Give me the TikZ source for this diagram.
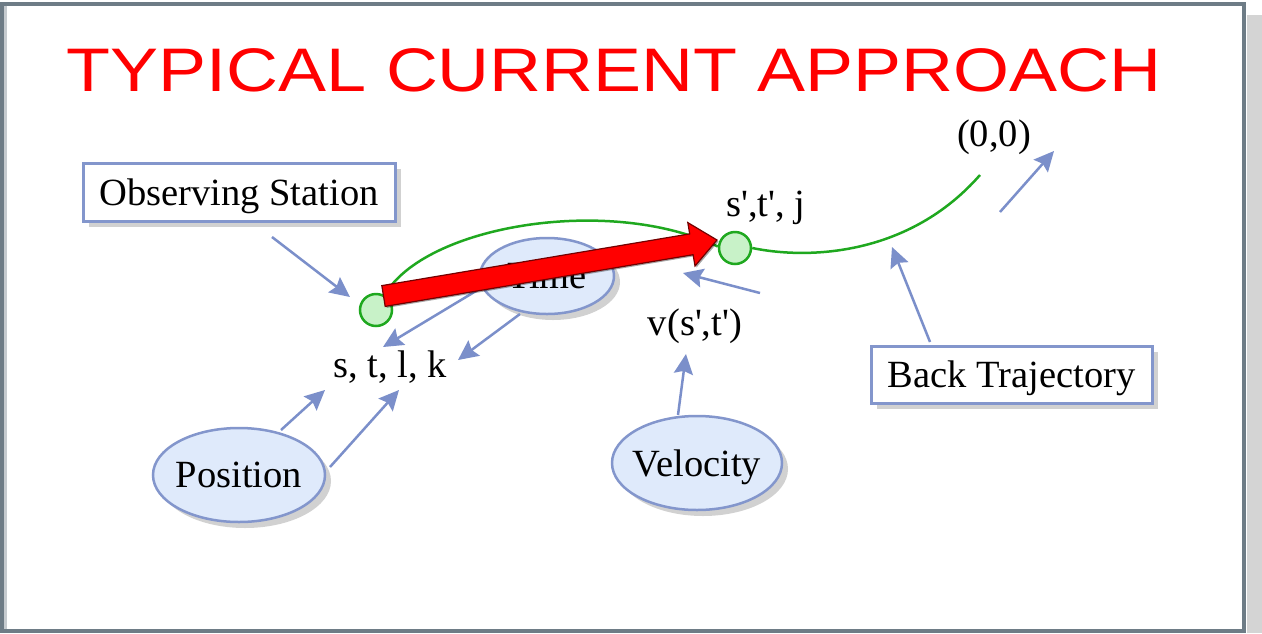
\documentclass[tikz,border=0pt]{standalone}
\usepackage{graphicx}
\usepackage{fontspec}
\setmainfont{Liberation Serif}
\newfontfamily\titlefont{Liberation Sans}
\usetikzlibrary{arrows.meta,shapes.geometric,shadows}
\definecolor{framec}{HTML}{6E7C86}
\definecolor{shadec}{HTML}{D4D4D4}
\definecolor{innerc}{HTML}{C6CBCF}
\definecolor{bluel}{HTML}{7B8FCA}
\definecolor{ellfill}{HTML}{DFEAFB}
\definecolor{ellline}{HTML}{8396CC}
\definecolor{greenl}{HTML}{1FA81F}
\definecolor{greenf}{HTML}{C8F2C8}
\begin{document}
\begin{tikzpicture}[x=1pt,y=-1pt,
  txt/.style={font=\fontsize{38.5}{40}\selectfont, inner sep=0pt},
  boxnode/.style={rectangle, draw=ellline, line width=3pt, fill=white, inner sep=0pt,
    font=\fontsize{38.5}{40}\selectfont, text depth=0pt,
    drop shadow={shadow xshift=6pt, shadow yshift=-6pt, fill=black, opacity=0.18}},
  ellnode/.style={ellipse, draw=ellline, line width=2.5pt, fill=ellfill, inner sep=0pt,
    drop shadow={shadow xshift=6pt, shadow yshift=-6pt, fill=black, opacity=0.18}},
  ell label/.style={font=\fontsize{38.5}{40}\selectfont, inner sep=0pt, text depth=0pt},
  conn/.style={draw=bluel, line width=2.5pt, -{Stealth[length=20pt,width=19pt,inset=3pt]}},
  station/.style={circle, draw=greenl, fill=greenf, line width=2.5pt, minimum size=32pt, inner sep=0pt},
  traj/.style={draw=greenl, line width=2.5pt}]
% frame
\path[use as bounding box] (0,0) rectangle (1262,633);
\fill[shadec] (1247,15) rectangle (1262,633);
\draw[framec, line width=4pt, fill=white] (1.8,3.5) rectangle (1243.5,630.5);
\draw[innerc, line width=3pt] (5,5.5) -- (5,628.5);
% title
\node[anchor=base west, inner sep=0pt, text=red] (title) at (66,91)
  {\scalebox{1.17}[1]{\titlefont\fontsize{61.5}{62}\selectfont TYPICAL CURRENT APPROACH}};
% nodes
\node[boxnode, minimum width=312pt, minimum height=58pt] (obs) at (239,192) {Observing Station};
\node[boxnode, minimum width=281pt, minimum height=57pt] (back) at (1011.5,374.5) {Back Trajectory};
\node[ellnode, minimum width=134pt, minimum height=76pt, label={[ell label]center:Time}] (time) at (547,276) {};
\node[ellnode, minimum width=172pt, minimum height=94pt, label={[ell label]center:Position}] (pos) at (239,475) {};
\node[ellnode, minimum width=170pt, minimum height=94pt, label={[ell label]center:Velocity}] (vel) at (697,463) {};
\node[txt, anchor=base] (stlk) at (390,377) {s, t, l, k};
\node[txt, anchor=base] (stj) at (766,216) {s\textquotesingle,t\textquotesingle, j};
\node[txt, anchor=base] (origin) at (994,146) {(0,0)};
\node[txt, anchor=base] (vst) at (695,335) {v(s\textquotesingle,t\textquotesingle)};
\node[station] (c1) at (376,310) {};
\node[station] (c2) at (735,248) {};
\coordinate (trajend) at (980,175);
\coordinate (tb) at (892,247);
% blue connectors
\draw[conn] ([shift={(33,45)}]obs.center) -- ([shift={(-26,-13)}]c1.center);
\draw[conn] (time.190) -- ([shift={(-7,-30)}]stlk.base);
\draw[conn] ([shift={(-27,38)}]time.center) -- ([shift={(68,-17)}]stlk.base);
\draw[conn] ([shift={(42,-45)}]pos.center) -- ([shift={(-65,13)}]stlk.base);
\draw[conn] ([shift={(91,-8)}]pos.center) -- ([shift={(9,13)}]stlk.base);
\draw[conn] ([shift={(-19,-48)}]vel.center) -- ([shift={(-9,19)}]vst.base);
\draw[conn] ([shift={(25,45)}]c2.center) -- ([shift={(-52,25)}]c2.center);
\draw[conn] ([shift={(-81.5,-32.5)}]back.center) -- (tb);
\draw[conn] ([shift={(6,66)}]origin.base) -- ([shift={(60,5)}]origin.base);
% green trajectory
\draw[traj] (c1.60) .. controls (425,225) and (610,195) .. (c2.175);
\draw[traj] (c2.east) .. controls (810,260) and (910,255) .. (trajend);
% red arrow
\fill[black, opacity=0.35] ([shift={(1.5,1.5)}]381.8,285.6) -- ([shift={(1.5,1.5)}]689.7,233.9) -- ([shift={(1.5,1.5)}]687.8,222.6) -- ([shift={(1.5,1.5)}]717,240) -- ([shift={(1.5,1.5)}]695.0,266.0) -- ([shift={(1.5,1.5)}]693.1,254.7) -- ([shift={(1.5,1.5)}]385.2,306.4) -- cycle;
\filldraw[fill=red, draw=black!55!red, line width=1.2pt, line join=miter]
  (381.8,285.6) -- (689.7,233.9) -- (687.8,222.6) -- (717,240) -- (695.0,266.0) -- (693.1,254.7) -- (385.2,306.4) -- cycle;
\end{tikzpicture}
\end{document}
